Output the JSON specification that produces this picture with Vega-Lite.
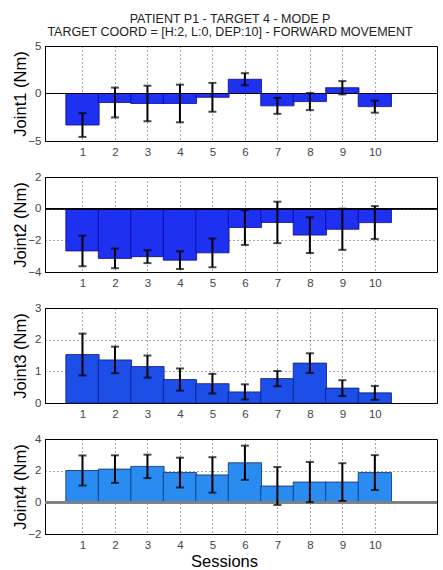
{
  "$schema": "https://vega.github.io/schema/vega-lite/v6.json",
  "background": "white",
  "padding": {"left": 11, "top": 13, "right": 0, "bottom": 0},
  "title": {"text": ["PATIENT P1  - TARGET 4 - MODE P", "TARGET COORD = [H:2, L:0, DEP:10] - FORWARD MOVEMENT"], "font": "Liberation Sans", "fontSize": 12.5, "fontWeight": "normal", "color": "#222", "anchor": "middle", "dx": 5, "offset": 1, "lineHeight": 13},
  "config": {
    "font": "Liberation Sans",
    "view": {"stroke": "#000", "strokeWidth": 1},
    "axis": {"labelFont": "Liberation Sans", "labelFontSize": 11.5, "labelColor": "#444", "labelOverlap": false, "labelBound": false, "labelFlush": false, "titleFont": "Liberation Sans", "titleFontSize": 16.5, "titleFontWeight": "normal", "titleColor": "#000", "domainColor": "#000", "ticks": false, "gridColor": "#000", "gridDash": [1, 3], "gridOpacity": 0.7, "gridWidth": 1},
    "axisY": {"titleX": -25, "titleY": 47.5, "titleBaseline": "middle", "titleAlign": "center", "titleAngle": 270}
  },
  "datasets": {
    "d": [
      {"joint": "Joint1", "session": 1, "mean": -3.32, "err": 1.25},
      {"joint": "Joint1", "session": 2, "mean": -0.95, "err": 1.57},
      {"joint": "Joint1", "session": 3, "mean": -1.05, "err": 1.87},
      {"joint": "Joint1", "session": 4, "mean": -1.05, "err": 1.98},
      {"joint": "Joint1", "session": 5, "mean": -0.4, "err": 1.52},
      {"joint": "Joint1", "session": 6, "mean": 1.5, "err": 0.64},
      {"joint": "Joint1", "session": 7, "mean": -1.3, "err": 0.84},
      {"joint": "Joint1", "session": 8, "mean": -0.85, "err": 0.9},
      {"joint": "Joint1", "session": 9, "mean": 0.61, "err": 0.7},
      {"joint": "Joint1", "session": 10, "mean": -1.38, "err": 0.64},
      {"joint": "Joint2", "session": 1, "mean": -2.67, "err": 0.97},
      {"joint": "Joint2", "session": 2, "mean": -3.14, "err": 0.62},
      {"joint": "Joint2", "session": 3, "mean": -3.03, "err": 0.41},
      {"joint": "Joint2", "session": 4, "mean": -3.25, "err": 0.56},
      {"joint": "Joint2", "session": 5, "mean": -2.79, "err": 0.91},
      {"joint": "Joint2", "session": 6, "mean": -1.19, "err": 1.1},
      {"joint": "Joint2", "session": 7, "mean": -0.87, "err": 1.31},
      {"joint": "Joint2", "session": 8, "mean": -1.67, "err": 1.13},
      {"joint": "Joint2", "session": 9, "mean": -1.3, "err": 1.3},
      {"joint": "Joint2", "session": 10, "mean": -0.88, "err": 1.04},
      {"joint": "Joint3", "session": 1, "mean": 1.53, "err": 0.66},
      {"joint": "Joint3", "session": 2, "mean": 1.36, "err": 0.42},
      {"joint": "Joint3", "session": 3, "mean": 1.15, "err": 0.35},
      {"joint": "Joint3", "session": 4, "mean": 0.74, "err": 0.35},
      {"joint": "Joint3", "session": 5, "mean": 0.61, "err": 0.31},
      {"joint": "Joint3", "session": 6, "mean": 0.35, "err": 0.24},
      {"joint": "Joint3", "session": 7, "mean": 0.77, "err": 0.24},
      {"joint": "Joint3", "session": 8, "mean": 1.26, "err": 0.31},
      {"joint": "Joint3", "session": 9, "mean": 0.47, "err": 0.25},
      {"joint": "Joint3", "session": 10, "mean": 0.32, "err": 0.22},
      {"joint": "Joint4", "session": 1, "mean": 2.01, "err": 0.95},
      {"joint": "Joint4", "session": 2, "mean": 2.1, "err": 0.87},
      {"joint": "Joint4", "session": 3, "mean": 2.27, "err": 0.74},
      {"joint": "Joint4", "session": 4, "mean": 1.88, "err": 0.94},
      {"joint": "Joint4", "session": 5, "mean": 1.73, "err": 1.12},
      {"joint": "Joint4", "session": 6, "mean": 2.5, "err": 1.08},
      {"joint": "Joint4", "session": 7, "mean": 1.03, "err": 1.2},
      {"joint": "Joint4", "session": 8, "mean": 1.28, "err": 1.27},
      {"joint": "Joint4", "session": 9, "mean": 1.28, "err": 1.19},
      {"joint": "Joint4", "session": 10, "mean": 1.88, "err": 1.1}
    ]
  },
  "vconcat": [
    {
      "width": 392, "height": 95,
      "data": {"name": "d"},
      "transform": [{"filter": "datum.joint === 'Joint1'"}],
      "encoding": {
        "x": {"field": "session", "type": "quantitative", "scale": {"domain": [0, 11.76], "nice": false}, "axis": {"values": [1,2,3,4,5,6,7,8,9,10], "title": null, "labelPadding": 5, "grid": true}},
        "y": {"field": "mean", "type": "quantitative", "scale": {"domain": [-5, 5], "nice": false}, "axis": {"values": [-5, 0, 5], "title": "Joint1 (Nm)", "grid": false, "labelPadding": 4}}
      },
      "layer": [
        {"mark": {"type": "bar", "width": 33.3, "color": "#1e30f0", "stroke": "#0a0a90", "strokeWidth": 0.8}},
        {"mark": {"type": "rule", "color": "#000", "strokeWidth": 1}, "encoding": {"y": {"datum": 0, "type": "quantitative"}, "x": {"value": 0}, "x2": {"value": 392}}},
        {"mark": {"type": "errorbar", "ticks": true, "thickness": 2, "size": 8, "color": "#000"},
         "encoding": {"yError": {"field": "err"}}}
      ]
    },
    {
      "width": 392, "height": 95,
      "data": {"name": "d"},
      "transform": [{"filter": "datum.joint === 'Joint2'"}],
      "encoding": {
        "x": {"field": "session", "type": "quantitative", "scale": {"domain": [0, 11.76], "nice": false}, "axis": {"values": [1,2,3,4,5,6,7,8,9,10], "title": null, "labelPadding": 5, "grid": true}},
        "y": {"field": "mean", "type": "quantitative", "scale": {"domain": [-4, 2], "nice": false}, "axis": {"values": [-4, -2, 0, 2], "title": "Joint2 (Nm)", "grid": true, "labelPadding": 4}}
      },
      "layer": [
        {"mark": {"type": "bar", "width": 33.3, "color": "#1e30f0", "stroke": "#0a0a90", "strokeWidth": 0.8}},
        {"mark": {"type": "rule", "color": "#000", "strokeWidth": 1}, "encoding": {"y": {"datum": 0, "type": "quantitative"}, "x": {"value": 0}, "x2": {"value": 392}}},
        {"mark": {"type": "errorbar", "ticks": true, "thickness": 2, "size": 8, "color": "#000"},
         "encoding": {"yError": {"field": "err"}}}
      ]
    },
    {
      "width": 392, "height": 95,
      "data": {"name": "d"},
      "transform": [{"filter": "datum.joint === 'Joint3'"}],
      "encoding": {
        "x": {"field": "session", "type": "quantitative", "scale": {"domain": [0, 11.76], "nice": false}, "axis": {"values": [1,2,3,4,5,6,7,8,9,10], "title": null, "labelPadding": 5, "grid": true}},
        "y": {"field": "mean", "type": "quantitative", "scale": {"domain": [0, 3], "nice": false}, "axis": {"values": [0, 1, 2, 3], "title": "Joint3 (Nm)", "grid": true, "labelPadding": 4}}
      },
      "layer": [
        {"mark": {"type": "bar", "width": 33.3, "color": "#1e4ee8", "stroke": "#0a1a80", "strokeWidth": 0.8}},
        {"mark": {"type": "errorbar", "ticks": true, "thickness": 2, "size": 8, "color": "#000"},
         "encoding": {"yError": {"field": "err"}}}
      ]
    },
    {
      "width": 392, "height": 95,
      "data": {"name": "d"},
      "transform": [{"filter": "datum.joint === 'Joint4'"}],
      "encoding": {
        "x": {"field": "session", "type": "quantitative", "scale": {"domain": [0, 11.76], "nice": false}, "axis": {"values": [1,2,3,4,5,6,7,8,9,10], "title": "Sessions", "titleX": 179, "titleY": 32, "titleBaseline": "alphabetic", "labelPadding": 5, "grid": true}},
        "y": {"field": "mean", "type": "quantitative", "scale": {"domain": [-2, 4], "nice": false}, "axis": {"values": [-2, 0, 2, 4], "title": "Joint4 (Nm)", "grid": true, "labelPadding": 4}}
      },
      "layer": [
        {"mark": {"type": "bar", "width": 33.3, "color": "#2a8cf0", "stroke": "#0a2a70", "strokeWidth": 0.8}},
        {"mark": {"type": "rule", "color": "#808080", "strokeWidth": 2}, "encoding": {"y": {"datum": 0, "type": "quantitative"}, "x": {"value": 0}, "x2": {"value": 392}}},
        {"mark": {"type": "errorbar", "ticks": true, "thickness": 2, "size": 8, "color": "#000"},
         "encoding": {"yError": {"field": "err"}}}
      ]
    }
  ],
  "spacing": 36,
  "bounds": "flush"
}
